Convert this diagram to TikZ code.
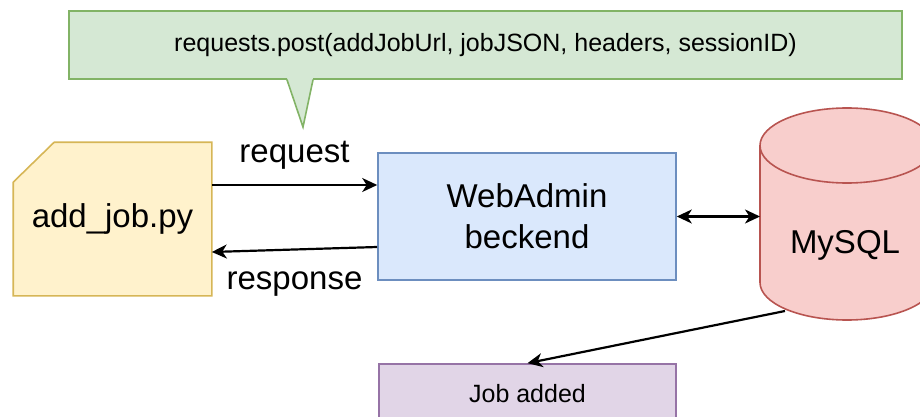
\documentclass[tikz,border=0pt]{standalone}
\usepackage{fontspec}
\setmainfont{Liberation Sans}
\usetikzlibrary{arrows.meta,backgrounds}
\definecolor{notefill}{HTML}{D5E8D4}
\definecolor{notedraw}{HTML}{82B366}
\definecolor{scriptfill}{HTML}{FFF2CC}
\definecolor{scriptdraw}{HTML}{D6B656}
\definecolor{webfill}{HTML}{DAE8FC}
\definecolor{webdraw}{HTML}{6C8EBF}
\definecolor{dbfill}{HTML}{F8CECC}
\definecolor{dbdraw}{HTML}{B85450}
\definecolor{jobfill}{HTML}{E1D5E7}
\definecolor{jobdraw}{HTML}{9673A6}

\tikzset{
  big/.style={font=\fontsize{33}{41}\selectfont},
  small/.style={font=\fontsize{25}{30}\selectfont},
  box/.style={rectangle, line width=1.6pt, inner sep=0pt, align=center},
  lbl/.style={big, inner sep=0pt},
  flow/.style={line width=2.2pt, -{Stealth[length=15pt,width=14pt,inset=4.5pt]}},
  both/.style={line width=2.2pt, {Stealth[length=15pt,width=14pt,inset=4.5pt]}-{Stealth[length=15pt,width=14pt,inset=4.5pt]}},
}

\begin{document}
\begin{tikzpicture}[x=1pt,y=-1pt]
    \useasboundingbox (0,0) rectangle (920,417);
    \clip (0,0) rectangle (920,417);

    % speech bubble with the call
    \node[box, small, fill=notefill, draw=notedraw, minimum width=833pt, minimum height=68pt] (post) at (485.5,45) {requests.post(addJobUrl, jobJSON, headers, sessionID)};
    \coordinate (tip) at (303,127);
    \fill[notefill] ([xshift=-16pt,yshift=2pt]tip |- post.south) -- (tip) -- ([xshift=10pt,yshift=2pt]tip |- post.south) -- cycle;
    \draw[notedraw, line width=1.6pt] ([xshift=-16pt]tip |- post.south) -- (tip) -- ([xshift=10pt]tip |- post.south);

    % script file
    \node[box, big, minimum width=197pt, minimum height=152pt] (script) at (112.5,219) {add\_job.py};
    \begin{scope}[on background layer]
        \filldraw[fill=scriptfill, draw=scriptdraw, line width=1.6pt] ([xshift=41pt]script.north west) -- (script.north east) -- (script.south east) -- (script.south west) -- ([yshift=-40pt]script.north west) -- cycle;
    \end{scope}

    \node[box, big, fill=webfill, draw=webdraw, minimum width=298pt, minimum height=127pt] (web) at (527,216.5) {WebAdmin\\beckend};

    % database
    \filldraw[fill=dbfill, draw=dbdraw, line width=1.6pt] (760,145.5) -- (760,282.5) arc[start angle=180, end angle=360, x radius=87pt, y radius=37.5pt] -- (934,145.5) arc[start angle=0, end angle=180, x radius=87pt, y radius=37.5pt] -- cycle;
    \draw[dbdraw, line width=1.6pt] (760,145.5) arc[start angle=180, end angle=360, x radius=87pt, y radius=37.5pt];
    \node[lbl] (db) at (845,245) {MySQL};
    \coordinate (dbin) at (760,216.5);
    \coordinate (dbout) at (785,311);

    \node[box, small, fill=jobfill, draw=jobdraw, minimum width=297pt, minimum height=60pt] (job) at (527.5,394) {Job added};

    % arrows
    \draw[flow] ([yshift=34pt]script.east) -- ([yshift=34pt]script.east -| web.west) node[midway, above=15pt, lbl] {request};
    \draw[flow] ([yshift=-30.5pt]web.west) -- ([yshift=-33pt]script.east) node[midway, below=21pt, lbl] {response};
    \draw[both] (web.east) -- (dbin);
    \draw[flow] (dbout) -- (job.north);
\end{tikzpicture}
\end{document}
